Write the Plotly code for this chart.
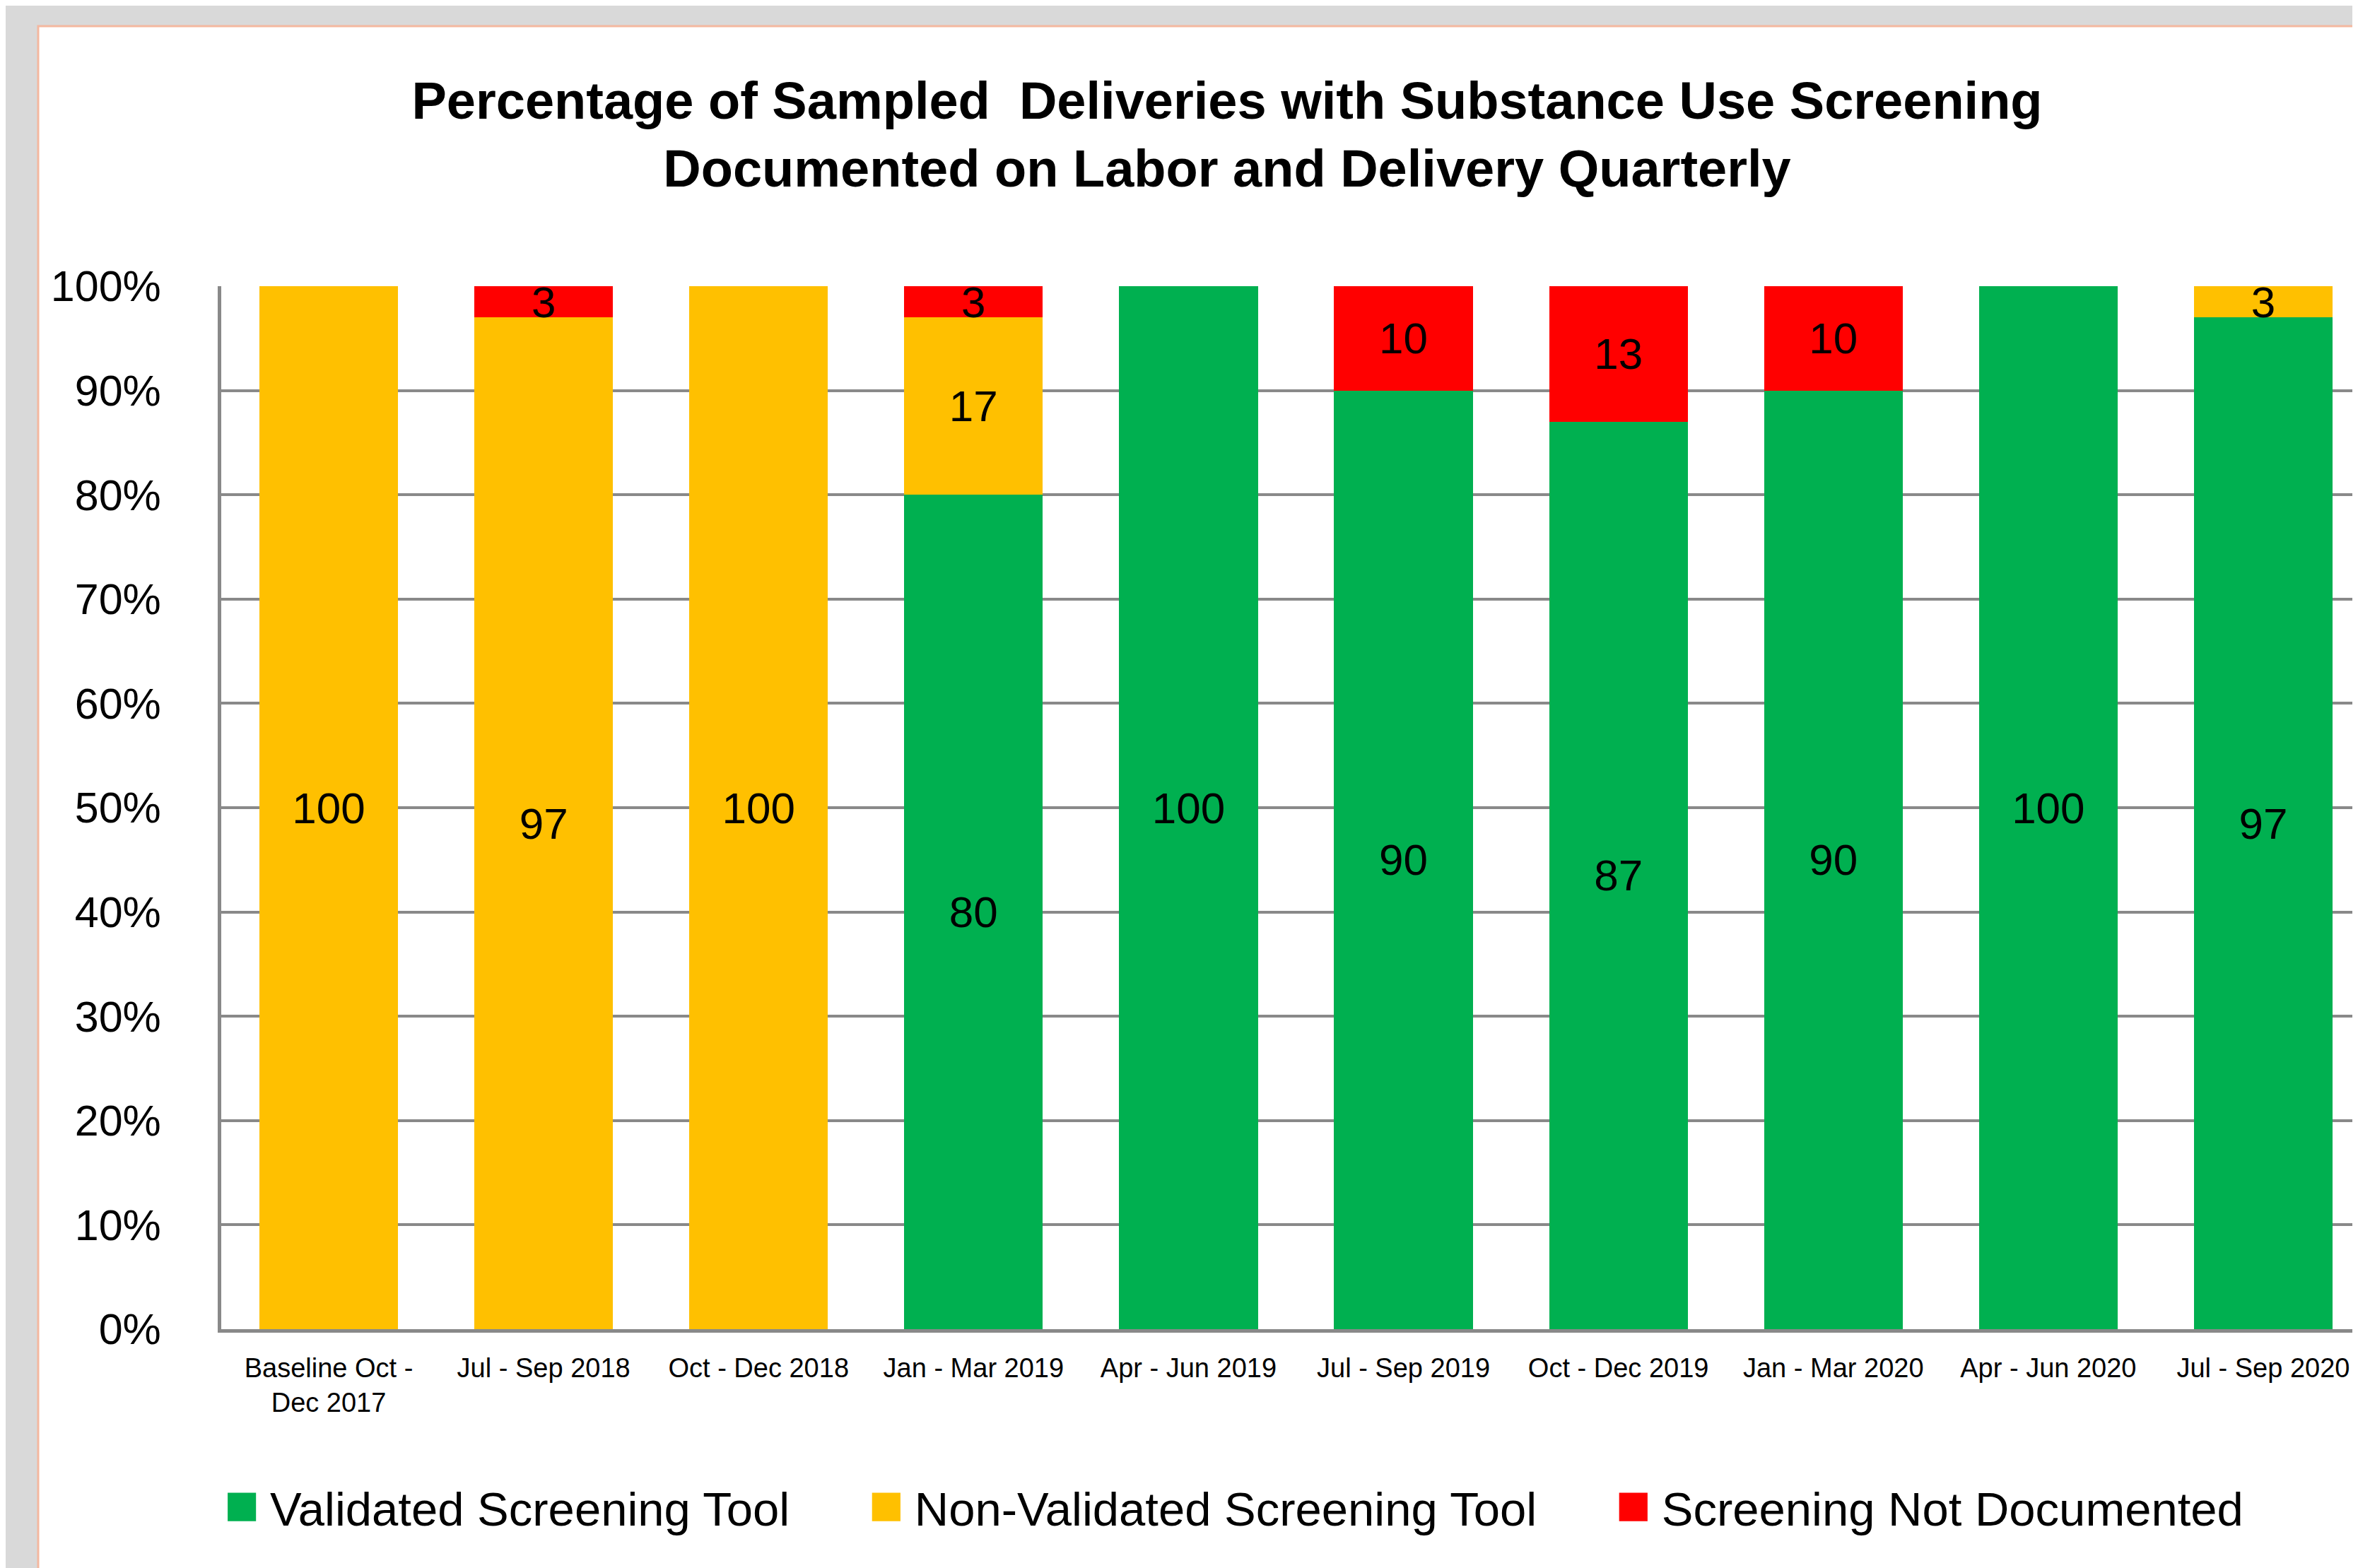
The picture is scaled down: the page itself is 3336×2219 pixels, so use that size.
import plotly.graph_objects as go

# ---- data ----
categories = [
    "Baseline Oct -<br>Dec 2017", "Jul - Sep 2018", "Oct - Dec 2018", "Jan - Mar 2019",
    "Apr - Jun 2019", "Jul - Sep 2019", "Oct - Dec 2019", "Jan - Mar 2020",
    "Apr - Jun 2020", "Jul - Sep 2020",
]
validated = [0, 0, 0, 80, 100, 90, 87, 90, 100, 97]
non_validated = [100, 97, 100, 17, 0, 0, 0, 0, 0, 3]
not_documented = [0, 3, 0, 3, 0, 10, 13, 10, 0, 0]

series_names = ["Validated Screening Tool", "Non-Validated Screening Tool", "Screening Not Documented"]
series_colors = ["#00B050", "#FFC000", "#FF0000"]
series_values = [validated, non_validated, not_documented]

title_text = ("Percentage of Sampled  Deliveries with Substance Use Screening<br>"
              "Documented on Labor and Delivery Quarterly")
y_ticks = list(range(0, 101, 10))
y_ticktext = [f"{v}%" for v in y_ticks]

# ---- layout geometry ----
W, H = 3336, 2219
ML, MR, MT, MB = 305, 0, 397, 346
PW = W - ML - MR
PH = H - MT - MB

FONT = "Liberation Sans, Arial, sans-serif"
PAD = "\u00a0" * 6  # spacing between legend entries

fig = go.Figure()
for i, (name, color, vals) in enumerate(zip(series_names, series_colors, series_values)):
    fig.add_trace(go.Bar(
        x=categories, y=vals,
        name=name + (PAD if i < len(series_names) - 1 else ""),
        marker=dict(color=color, line=dict(width=0)),
        text=[str(v) if v else "" for v in vals],
        textposition="inside", insidetextanchor="middle", textangle=0,
        textfont=dict(family=FONT, size=62, color="#000000"),
        hoverinfo="skip",
    ))

# white chart panel with light border on grey background
fig.add_shape(type="rect", xref="paper", yref="paper", layer="below",
              x0=(46 - ML) / PW, x1=1.2, y0=-0.5, y1=(MT + PH - 29) / PH,
              fillcolor="#FFFFFF", line=dict(color="#F4B8A0", width=3))

fig.update_layout(
    width=W, height=H,
    margin=dict(l=ML, r=MR, t=MT, b=MB, pad=0),
    paper_bgcolor="#D9D9D9", plot_bgcolor="rgba(0,0,0,0)",
    barmode="stack", bargap=0.355,
    title=dict(text=title_text, x=1728 / W, xref="container", xanchor="center",
               y=1 - 160 / H, yref="container", yanchor="middle",
               font=dict(family=FONT, size=74, color="#000000", weight="bold")),
    uniformtext=dict(minsize=62, mode="show"),
    showlegend=True,
    legend=dict(orientation="h", x=0.003, xanchor="left", xref="paper",
                y=-(2125 - MT - PH) / PH, yanchor="middle", yref="paper",
                indentation=20,
                traceorder="normal", font=dict(family=FONT, size=67, color="#000000"),
                bgcolor="rgba(0,0,0,0)", itemclick=False),
    xaxis=dict(type="category", range=[-0.5, 9.5 - 10 / 304], showgrid=False,
               showline=True, linecolor="#898989", linewidth=5, ticks="",
               tickfont=dict(family=FONT, size=38, color="#000000"),
               ticklabelstandoff=17, fixedrange=True),
    yaxis=dict(range=[0, 100], tickmode="array", tickvals=y_ticks, ticktext=y_ticktext,
               showgrid=True, gridcolor="#898989", gridwidth=4,
               showline=True, linecolor="#898989", linewidth=5, ticks="",
               tickfont=dict(family=FONT, size=61, color="#000000"),
               ticklabelstandoff=68, zeroline=False, fixedrange=True),
)

post_js = """
var gd = document.getElementsByClassName('plotly-graph-div')[0];
function bigLegendIcons(){
  gd.querySelectorAll('.legendpoints path').forEach(function(p){
    p.setAttribute('transform','scale(3.35)');
  });
}
bigLegendIcons();
gd.on('plotly_afterplot', bigLegendIcons);
"""

fig.write_html("out.html", config={"displayModeBar": False}, post_script=post_js)
